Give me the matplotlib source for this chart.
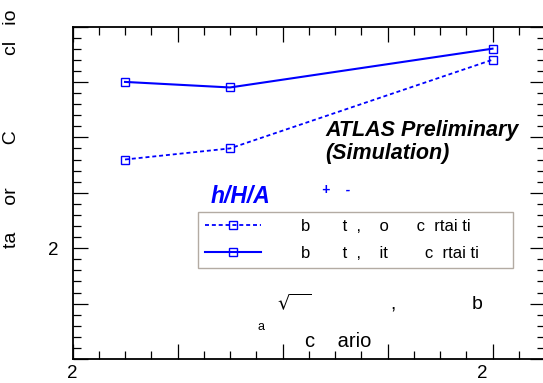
import numpy as np
import matplotlib.pyplot as plt
from matplotlib.ticker import MultipleLocator, FixedLocator, FixedFormatter

plt.rcParams['font.family'] = ['Liberation Sans', 'DejaVu Sans']
plt.rcParams['mathtext.fontset'] = 'dejavusans'

# data
mass = [250, 350, 600]
no_unc = [3.6, 3.8, 5.4]
with_unc = [5.0, 4.9, 5.6]

x_ticks = [200, 300, 400, 500, 600]
x_labels = ['2', '', '', '', '2    ']
y_ticks = [0, 1, 2, 3, 4, 5, 6]
y_labels = ['', '', '2', '', '', '', '']

leg_labels = ['b       t  ,    o      c  rtai ti',
              'b       t  ,    it        c  rtai ti']
y_title = 'ta     or        C              cl   io'

W, H = 543, 383
fig = plt.figure(figsize=(W / 100, H / 100), dpi=100)
ax = fig.add_axes([72.5 / W, 1 - 359 / H, (545 - 72.5) / W, (359 - 26.5) / H])

blue = '#0000ff'
ax.plot(mass, no_unc, color=blue, lw=1.3, dashes=(2.2, 1.6), marker='s',
        ms=6, mfc='none', mec=blue, mew=1.0, label=leg_labels[0])
ax.plot(mass, with_unc, color=blue, lw=1.5, marker='s',
        ms=6, mfc='none', mec=blue, mew=1.0, label=leg_labels[1])

ax.set_xlim(200, 650)
ax.set_ylim(0, 6)
ax.xaxis.set_major_locator(FixedLocator(x_ticks))
ax.xaxis.set_major_formatter(FixedFormatter(x_labels))
ax.xaxis.set_minor_locator(MultipleLocator(25))
ax.yaxis.set_major_locator(FixedLocator(y_ticks))
ax.yaxis.set_major_formatter(FixedFormatter(y_labels))
ax.yaxis.set_minor_locator(MultipleLocator(0.2))
ax.tick_params(which='both', direction='in', top=True, right=True, width=0.9)
ax.tick_params(which='major', length=11, labelsize=13.5)
ax.tick_params(axis='x', which='major', pad=4)
ax.tick_params(axis='y', which='major', pad=10)
ax.tick_params(which='minor', length=5.5)
for s in ax.spines.values():
    s.set_linewidth(1.3)

fig.text(12 / W, 1 - 129 / H, y_title, rotation=90, ha='center', va='center', fontsize=14)

leg = ax.legend(loc='upper left', bbox_to_anchor=(198 / W, 1 - 276 / H, 315 / W, 64 / H),
                bbox_transform=fig.transFigure, mode='expand', borderaxespad=0,
                fontsize=12, handlelength=3.35, handletextpad=2.45, borderpad=0.4,
                labelspacing=0.75, numpoints=1, fancybox=False, framealpha=1)
leg.get_frame().set_edgecolor('#b3aba3')
leg.get_frame().set_linewidth(1.0)

fig.text(325 / W, 1 - 136 / H, 'ATLAS Preliminary', fontsize=15.5, fontweight='bold',
         style='italic', ha='left', va='baseline')
fig.text(325 / W, 1 - 159 / H, '(Simulation)', fontsize=15.5, fontweight='bold',
         style='italic', ha='left', va='baseline')
fig.text(211 / W, 1 - 203 / H, 'h/H/A', fontsize=16.5, fontweight='bold',
         style='italic', color=blue, ha='left', va='baseline')
fig.text(322 / W, 1 - 194 / H, '+    -', fontsize=10, fontweight='bold',
         style='italic', color=blue, ha='left', va='baseline')

fig.text(277 / W, 1 - 310 / H, r'$\sqrt{\enspace\;}$' + ' ' * 15 + ',' + ' ' * 14 + 'b',
         fontsize=14, ha='left', va='baseline')
fig.text(257 / W, 1 - 330 / H, 'a', fontsize=9, ha='left', va='baseline')
fig.text(305 / W, 1 - 347 / H, 'c    ario', fontsize=14.5, ha='left', va='baseline')

fig.savefig('out.png', dpi=100)
